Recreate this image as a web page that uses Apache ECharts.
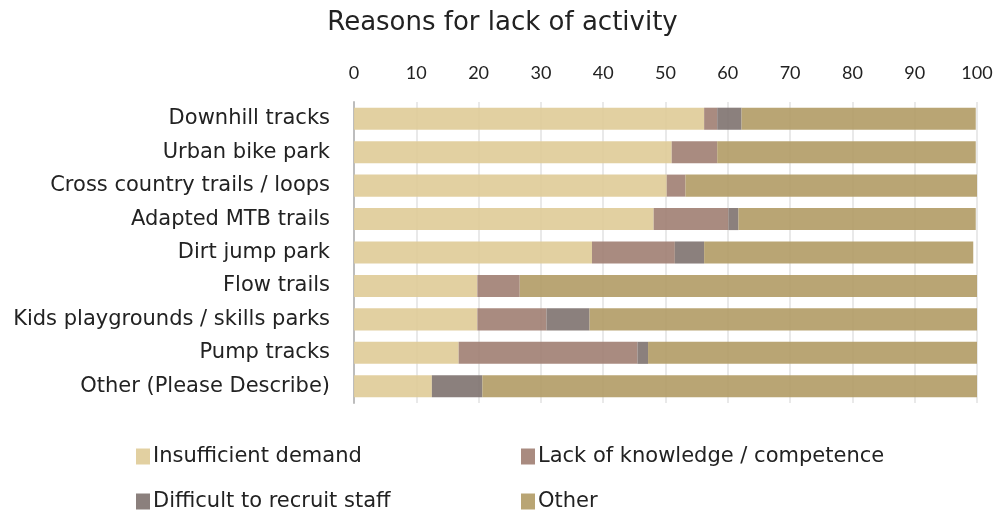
<!DOCTYPE html>
<html>
<head>
<meta charset="utf-8">
<script src="https://cdn.jsdelivr.net/npm/echarts@6/dist/echarts.min.js"></script>
<style>
  html, body { margin: 0; padding: 0; background: #fff; }
  #chart { width: 1005px; height: 513px; }
</style>
</head>
<body>
<div id="chart"></div>
<script>
// Facility types, listed top to bottom
const categories = [
  'Downhill tracks',
  'Urban bike park',
  'Cross country trails / loops',
  'Adapted MTB trails',
  'Dirt jump park',
  'Flow trails',
  'Kids playgrounds / skills parks',
  'Pump tracks',
  'Other (Please Describe)'
];

// Share of answers per reason (%)
const insufficientDemand = [56.2, 51.0, 50.2, 48.1, 38.2, 19.8, 19.8, 16.8, 12.5];
const lackOfKnowledge    = [ 2.1,  7.3,  3.0, 12.0, 13.3,  6.8, 11.1, 28.7,  0.0];
const difficultToRecruit = [ 3.9,  0.0,  0.0,  1.6,  4.7,  0.0,  6.9,  1.7,  8.1];
const otherReason        = [37.6, 41.5, 46.8, 38.1, 43.2, 73.4, 62.2, 52.8, 79.4];

const xTicks = [0, 10, 20, 30, 40, 50, 60, 70, 80, 90, 100];

const seriesDefs = [
  { name: 'Insufficient demand', data: insufficientDemand, color: '#E0CC9A' },
  { name: 'Lack of knowledge / competence', data: lackOfKnowledge, color: '#A38276' },
  { name: 'Difficult to recruit staff', data: difficultToRecruit, color: '#827673' },
  { name: 'Other', data: otherReason, color: '#B49E69' }
];

const textFont = '"DejaVu Sans", sans-serif';
const tickFont = 'Lato, "Open Sans", sans-serif';

const chart = echarts.init(document.getElementById('chart'));

const legendPos = [
  { left: 131, top: 441 },
  { left: 516, top: 441 },
  { left: 131, top: 486 },
  { left: 516, top: 486 }
];

chart.setOption({
  animation: false,
  title: {
    text: 'Reasons for lack of activity',
    left: 'center',
    top: 5,
    textStyle: {
      fontFamily: textFont,
      fontWeight: 'normal',
      fontSize: 26,
      color: '#222'
    }
  },
  legend: seriesDefs.map((s, i) => ({
    data: [s.name],
    left: legendPos[i].left,
    top: legendPos[i].top,
    itemWidth: 14,
    itemHeight: 16,
    itemGap: 0,
    icon: 'rect',
    selectedMode: false,
    textStyle: { fontFamily: textFont, fontSize: 21, color: '#222', padding: [0, 0, 0, -2] }
  })),
  grid: { left: 354, right: 28, top: 102, bottom: 110 },
  xAxis: {
    type: 'value',
    position: 'top',
    min: 0,
    max: 100,
    interval: 10,
    axisLine: { show: false },
    axisTick: { show: false },
    axisLabel: {
      margin: 20,
      fontFamily: tickFont,
      fontSize: 18,
      color: '#222',
      formatter: v => (xTicks.includes(v) ? String(v) : '')
    },
    splitLine: { show: true, lineStyle: { color: '#e2e2e2', width: 1.5 } }
  },
  yAxis: {
    type: 'category',
    inverse: true,
    data: categories,
    axisLine: { show: true, lineStyle: { color: '#bdbdbd', width: 2 } },
    axisTick: { show: false },
    axisLabel: {
      margin: 24,
      fontFamily: textFont,
      fontSize: 21,
      color: '#222'
    }
  },
  series: seriesDefs.map(s => ({
    name: s.name,
    type: 'bar',
    stack: 'total',
    data: s.data,
    barWidth: '66%',
    itemStyle: { color: s.color, opacity: 0.93 }
  }))
});
</script>
</body>
</html>
